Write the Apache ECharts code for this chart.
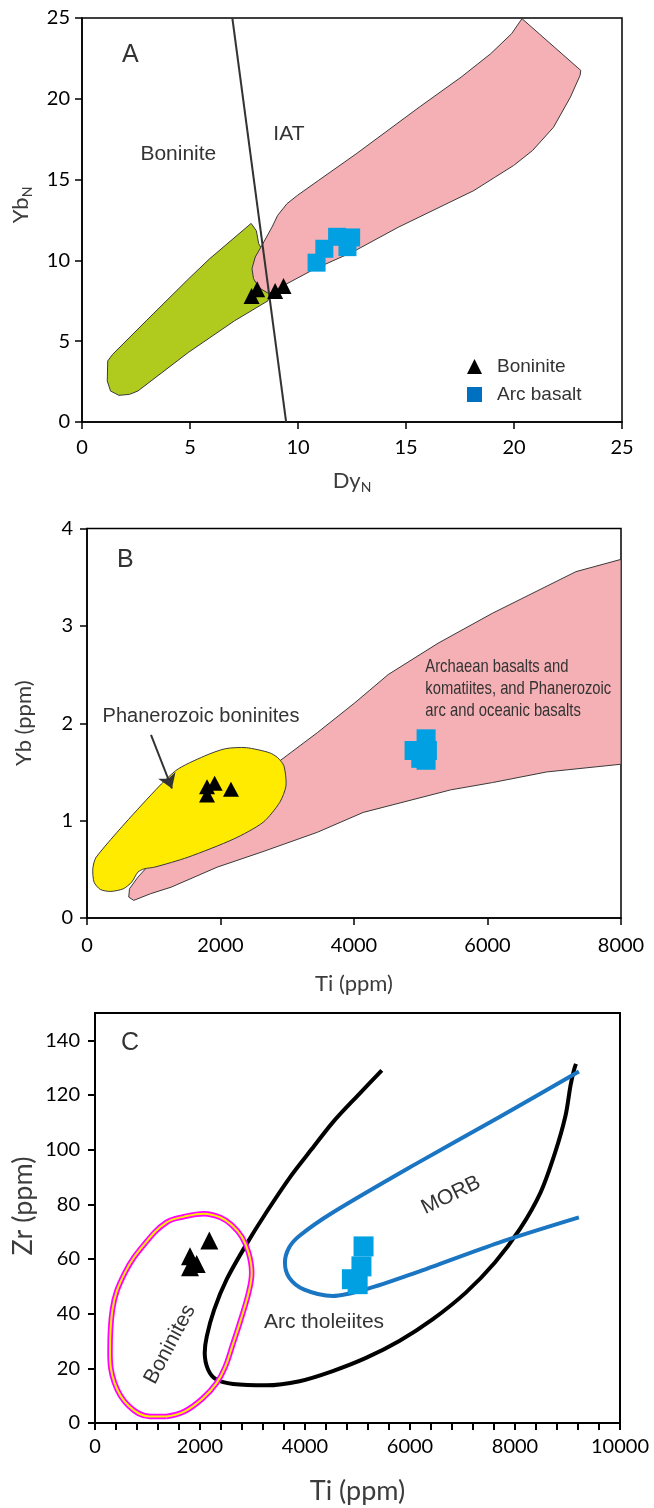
<!DOCTYPE html>
<html>
<head>
<meta charset="utf-8">
<script src="https://cdn.jsdelivr.net/npm/echarts@6/dist/echarts.min.js"></script>
<style>
  html, body { margin: 0; padding: 0; background: #fff; }
  #chart { width: 654px; height: 1508px; }
</style>
</head>
<body>
<div id="chart"></div>
<script>
  // ---- Panel A : YbN vs DyN ----
  const aIatField = [[20.37, 24.96], [23.09, 21.76], [23.06, 21.45], [22.61, 20.10], [21.83, 18.24], [20.86, 16.80],
    [19.98, 15.87], [19.11, 15.14], [18.14, 14.32], [14.64, 12.05], [12.50, 10.50], [10.75, 9.46], [8.64, 7.95],
    [8.20, 8.30], [7.94, 8.87], [7.87, 9.49], [8.02, 10.21], [8.33, 10.93], [8.80, 12.07], [9.06, 12.79], [9.49, 13.51],
    [9.97, 14.02], [10.94, 14.94], [12.69, 16.59], [15.61, 19.48], [17.55, 21.34], [18.92, 22.79], [19.89, 24.03]];
  const aBoniniteField = [[7.83, 12.29], [8.07, 11.84], [8.18, 11.04], [8.32, 10.70], [8.60, 9.50], [8.75, 8.20],
    [8.61, 7.50], [7.06, 6.26], [4.92, 4.30], [2.59, 1.92], [2.20, 1.71], [1.71, 1.65], [1.32, 1.92], [1.17, 2.54],
    [1.19, 3.78], [1.42, 4.19], [2.97, 6.26], [4.92, 8.84], [5.89, 10.08]];
  const aDivider = [[6.96, 25], [9.45, 0]];
  const aBoninite = [[7.85, 7.80], [8.11, 8.21], [8.94, 8.10], [9.33, 8.41]];
  const aArcBasalt = [[10.86, 9.86], [11.22, 10.72], [11.81, 11.46], [12.46, 11.42], [12.29, 10.82]];
  const aNotes = [['A', 2.24, 22.7], ['Boninite', 4.46, 16.6], ['IAT', 9.58, 17.83]];

  // ---- Panel B : Yb vs Ti ----
  const bArchaeanField = [[700, 0.181], [950, 0.249], [1262, 0.317], [1950, 0.522], [2637, 0.682], [3450, 0.880],
    [4137, 1.084], [5450, 1.316], [6075, 1.391], [6887, 1.500], [8000, 1.579], [8000, 3.683], [7325, 3.557],
    [6075, 3.130], [5262, 2.823], [4512, 2.500], [4012, 2.210], [3450, 1.903], [2887, 1.613], [2500, 1.2],
    [1500, 0.75], [950, 0.56], [762, 0.419], [637, 0.300], [625, 0.215]];
  const bBoniniteField = [[137, 0.624], [87, 0.505], [106, 0.368], [200, 0.293], [356, 0.273], [544, 0.300],
    [669, 0.368], [762, 0.471], [856, 0.505], [1012, 0.522], [1512, 0.624], [2200, 0.812], [2637, 0.982],
    [2887, 1.187], [2981, 1.357], [2950, 1.562], [2856, 1.647], [2731, 1.698], [2387, 1.749], [2075, 1.739],
    [1762, 1.664], [1325, 1.511], [762, 1.118]];
  const bArrow = [[959, 1.88], [1273, 1.33]];
  const bBoninite = [[1798, 1.348], [1912, 1.383], [2157, 1.321], [1798, 1.263]];
  const bArcBasalt = [[5080, 1.84], [5100, 1.72], [4900, 1.72], [5000, 1.64], [5080, 1.62]];
  const bNotes = [['B', 574, 3.68], ['Phanerozoic boninites', 1708, 2.07],
    ['Archaean basalts and\nkomatiites, and Phanerozoic\narc and oceanic basalts', 5068, 2.35]];

  // ---- Panel C : Zr vs Ti ----
  const cArcTholeiite = [[5463, 129.0], [5004, 119.8], [4529, 110.0], [4133, 100.3], [3737, 90.5], [3262, 77.0],
    [2866, 64.8], [2510, 52.6], [2272, 41.6], [2130, 31.8], [2090, 25.7], [2153, 19.6], [2312, 15.9], [2629, 14.3],
    [3262, 13.8], [3896, 15.3], [4529, 19.0], [5162, 23.8], [5796, 30.0], [6429, 37.9], [7063, 47.7], [7617, 58.7],
    [8092, 70.9], [8488, 84.4], [8765, 99.0], [8963, 112.5], [9058, 123.5], [9121, 129.0], [9161, 131.4]];
  const cMorb = [[9217, 128.6], [7696, 111.9], [6113, 94.8], [4529, 77.0], [3896, 68.5], [3698, 64.2], [3618, 58.7],
    [3698, 53.2], [3975, 48.9], [4529, 46.5], [5162, 48.9], [6113, 55.0], [7696, 66.0], [9217, 75.2]];
  const cBoniniteField = [[1362, 2.4], [1700, 4.2], [2050, 9.0], [2318, 14.7], [2480, 20.5], [2620, 28.5],
    [2780, 38], [2930, 48], [2985, 55], [2930, 62], [2800, 68], [2600, 72.5], [2391, 75.2], [2074, 76.6],
    [1700, 75.5], [1362, 73.4], [966, 66.0], [570, 55.0], [333, 41.6], [286, 26.3], [372, 14.7], [649, 6.1],
    [1045, 2.4], [1362, 2.4]];
  const cBoninite = [[2177, 66.8], [1810, 61.0], [1810, 57.0], [1937, 58.2]];
  const cArcBasalt = [[5115, 64.6], [5075, 57.3], [4893, 52.6], [5003, 50.8]];
  const cYTicks = [0, 20, 40, 60, 80, 100, 120, 140];
  const cNotes = [['C', 667, 139], ['MORB', 6781, 83.3], ['Arc tholeiites', 4362, 37.0], ['Boninites', 1429, 28.8]];

  const TICK_FONT = 'Lato, "Open Sans", sans-serif';
  const TEXT_FONT = '"Liberation Sans", Arial, sans-serif';
  const BLUE_PT = '#00a0e2';

  function polygon(gi, pts, fill, smooth) {
    return {
      type: 'custom', xAxisIndex: gi, yAxisIndex: gi, silent: true, z: 1,
      data: [pts[0]],
      renderItem(params, api) {
        return {
          type: 'polygon',
          shape: { points: pts.map(p => api.coord(p)), smooth: smooth || 0 },
          style: { fill: fill, stroke: '#3a3a3a', lineWidth: 1 }
        };
      }
    };
  }

  function curve(gi, pts, color, width, smooth, z) {
    return {
      type: 'line', xAxisIndex: gi, yAxisIndex: gi, data: pts, symbol: 'none', showSymbol: false,
      smooth: smooth, silent: true, z: z || 3, lineStyle: { color: color, width: width }
    };
  }

  function points(name, gi, pts, symbol, size, color) {
    return {
      type: 'scatter', name: name, xAxisIndex: gi, yAxisIndex: gi, data: pts, symbol: symbol,
      symbolSize: size, silent: true, z: 6, itemStyle: { color: color, opacity: 1 }
    };
  }

  // text notes placed at data positions (custom series so the text can be rotated / condensed)
  function notes(gi, list, styles) {
    return {
      type: 'custom', xAxisIndex: gi, yAxisIndex: gi, silent: true, z: 7,
      data: list.map(n => [n[1], n[2]]),
      renderItem(params, api) {
        const n = list[params.dataIndex];
        const s = Object.assign({ size: 21, rotate: 0, scaleX: 1, align: 'center' }, styles[params.dataIndex] || {});
        const p = api.coord([n[1], n[2]]);
        return {
          type: 'text', x: p[0], y: p[1], rotation: s.rotate * Math.PI / 180, scaleX: s.scaleX,
          style: {
            text: n[0], fill: '#333', font: s.size + 'px ' + TEXT_FONT,
            align: s.align, verticalAlign: 'middle', lineHeight: s.lineHeight
          }
        };
      }
    };
  }

  function axis(gi, opt) {
    const w = opt.lw || 1.5;
    return Object.assign({
      type: 'value', gridIndex: gi, nameLocation: 'middle', nameMoveOverlap: false,
      splitLine: { show: false },
      axisLine: { onZero: false, lineStyle: { color: '#000', width: w } },
      axisTick: { inside: false, length: 7, lineStyle: { color: '#000', width: w } },
      axisLabel: { color: '#000', fontFamily: TICK_FONT, fontSize: 20, margin: opt.margin || 12,
        formatter: v => String(v) },
      nameTextStyle: Object.assign({ color: '#3c3c3c', fontFamily: TICK_FONT, fontSize: 22 }, opt.nameStyle || {})
    }, opt.base);
  }

  const subRich = {
    m: { fontFamily: TICK_FONT, fontSize: 22, color: '#3c3c3c' },
    s: { fontFamily: TICK_FONT, fontSize: 14, color: '#3c3c3c', padding: [12, 0, 0, 0] }
  };

  const gridStyle = { show: true, borderColor: '#000', borderWidth: 1.5, backgroundColor: 'transparent',
    outerBoundsMode: 'none', containLabel: false };

  const chart = echarts.init(document.getElementById('chart'));
  const option = {
    animation: false,
    backgroundColor: '#fff',
    grid: [
      Object.assign({ left: 82, top: 18, width: 540, height: 404 }, gridStyle),
      Object.assign({ left: 87, top: 528.5, width: 534, height: 389.5 }, gridStyle),
      Object.assign({ left: 95, top: 1013, width: 525, height: 410 }, gridStyle, { borderWidth: 2 })
    ],
    xAxis: [
      axis(0, { margin: 16, base: { min: 0, max: 25, interval: 5, name: '{m|Dy}{s|N}', nameGap: 46 },
        nameStyle: { rich: subRich } }),
      axis(1, { margin: 18, base: { min: 0, max: 8000, interval: 2000, name: 'Ti (ppm)', nameGap: 55 } }),
      axis(2, { margin: 14, lw: 2, base: { min: 0, max: 10000, interval: 2000, name: 'Ti (ppm)', nameGap: 55,
        minorTick: { show: true, splitNumber: 5, length: 7, lineStyle: { color: '#000', width: 2 } } },
        nameStyle: { fontSize: 27 } })
    ],
    yAxis: [
      axis(0, { margin: 12, base: { min: 0, max: 25, interval: 5, name: '{m|Yb}{s|N}', nameGap: 48 },
        nameStyle: { rich: subRich, padding: [0, 0, 0, 30] } }),
      axis(1, { margin: 14, base: { min: 0, max: 4, interval: 1, name: 'Yb (ppm)', nameGap: 52 } }),
      axis(2, { margin: 15, lw: 2, base: { min: 0, max: 150, interval: 20, name: 'Zr (ppm)', nameGap: 58 },
        nameStyle: { fontSize: 27, padding: [0, 0, 0, 24] } })
    ],
    legend: {
      orient: 'vertical', left: 462, top: 352, itemWidth: 15, itemHeight: 15, itemGap: 9,
      selectedMode: false,
      textStyle: { fontFamily: TEXT_FONT, fontSize: 19, color: '#333', lineHeight: 15, padding: [0, 0, 0, 10] },
      data: [
        { name: 'Boninite', icon: 'triangle' },
        { name: 'Arc basalt', icon: 'rect', itemStyle: { color: '#0070c0' } }
      ]
    },
    series: []
  };
  option.yAxis[2].axisLabel.customValues = cYTicks;
  option.yAxis[2].axisTick.customValues = cYTicks;

  option.series.push(
    // A
    polygon(0, aBoniniteField, '#b0ca1e'),
    polygon(0, aIatField, '#f4b0b4'),
    curve(0, aDivider, '#333', 2, false),
    points('Boninite', 0, aBoninite, 'triangle', [16, 16], '#000'),
    points('Arc basalt', 0, aArcBasalt, 'rect', [18, 18], BLUE_PT),
    notes(0, aNotes, [{ size: 25 }, {}, {}]),
    // B
    polygon(1, bArchaeanField, '#f4b0b4'),
    polygon(1, bBoniniteField, '#ffeb00', 0.25),
    {
      type: 'lines', coordinateSystem: 'cartesian2d', xAxisIndex: 1, yAxisIndex: 1, silent: true, z: 5,
      symbol: ['none', 'arrow'], symbolSize: 14,
      lineStyle: { color: '#333', width: 2, opacity: 1 },
      data: [{ coords: bArrow }]
    },
    points('Boninite B', 1, bBoninite, 'triangle', [16, 15], '#000'),
    points('Arc basalt B', 1, bArcBasalt, 'rect', [19, 19], BLUE_PT),
    notes(1, bNotes, [{ size: 25 }, { size: 20 },
      { align: 'left', size: 18.5, lineHeight: 22, scaleX: 0.8 }]),
    // C
    curve(2, cArcTholeiite, '#000', 4, 0.3),
    curve(2, cMorb, '#1a75c2', 4, 0.3),
    curve(2, cBoniniteField, '#ff00ff', 5.5, 0.4, 4),
    curve(2, cBoniniteField, '#ffee00', 2, 0.4, 4),
    points('Boninite C', 2, cBoninite, 'triangle', [18, 18], '#000'),
    points('Arc basalt C', 2, cArcBasalt, 'rect', [20, 20], BLUE_PT),
    notes(2, cNotes, [{ size: 25 }, { rotate: 26 }, {}, { rotate: 62 }])
  );

  chart.setOption(option);
</script>
</body>
</html>
